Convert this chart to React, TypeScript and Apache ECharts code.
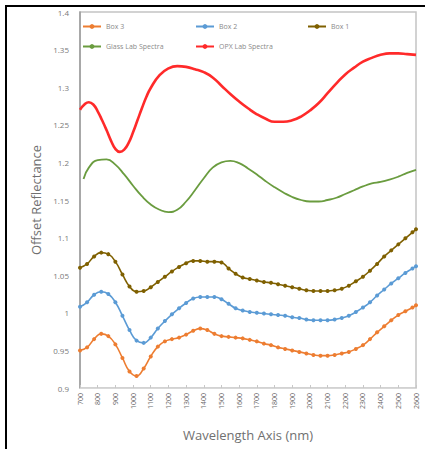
import React, { useEffect, useRef } from "react";
import * as echarts from "echarts";

const boxNm = [700, 740, 780, 820, 860, 900, 940, 980, 1020, 1060, 1100, 1140, 1180, 1220, 1260, 1300, 1340, 1380, 1420, 1460, 1500, 1540, 1580, 1620, 1660, 1700, 1740, 1780, 1820, 1860, 1900, 1940, 1980, 2020, 2060, 2100, 2140, 2180, 2220, 2260, 2300, 2340, 2380, 2420, 2460, 2500, 2540, 2580, 2600];

const box3 = [0.950, 0.954, 0.965, 0.972, 0.969, 0.958, 0.940, 0.922, 0.916, 0.926, 0.942, 0.955, 0.962, 0.965, 0.967, 0.971, 0.976, 0.979, 0.977, 0.972, 0.969, 0.968, 0.967, 0.966, 0.964, 0.962, 0.959, 0.957, 0.954, 0.952, 0.950, 0.948, 0.946, 0.944, 0.943, 0.943, 0.944, 0.946, 0.948, 0.952, 0.957, 0.965, 0.974, 0.982, 0.990, 0.997, 1.002, 1.007, 1.010];

const box2 = [1.008, 1.014, 1.024, 1.028, 1.025, 1.014, 0.996, 0.977, 0.963, 0.960, 0.967, 0.979, 0.989, 0.998, 1.006, 1.013, 1.019, 1.021, 1.021, 1.021, 1.018, 1.012, 1.006, 1.003, 1.001, 1.000, 0.999, 0.998, 0.997, 0.996, 0.994, 0.993, 0.991, 0.990, 0.990, 0.990, 0.991, 0.993, 0.996, 1.001, 1.007, 1.014, 1.023, 1.031, 1.039, 1.046, 1.053, 1.059, 1.062];

const box1 = [1.060, 1.065, 1.075, 1.080, 1.078, 1.068, 1.051, 1.035, 1.028, 1.029, 1.034, 1.041, 1.048, 1.055, 1.061, 1.066, 1.069, 1.069, 1.068, 1.068, 1.067, 1.059, 1.052, 1.047, 1.045, 1.043, 1.041, 1.040, 1.038, 1.036, 1.034, 1.032, 1.030, 1.029, 1.029, 1.029, 1.030, 1.032, 1.036, 1.042, 1.048, 1.056, 1.065, 1.075, 1.083, 1.091, 1.099, 1.107, 1.111];

const glassNm = [720, 750, 800, 850, 900, 950, 1000, 1050, 1100, 1150, 1200, 1250, 1300, 1350, 1400, 1450, 1500, 1550, 1600, 1650, 1700, 1750, 1800, 1850, 1900, 1950, 2000, 2050, 2100, 2150, 2200, 2250, 2300, 2350, 2400, 2450, 2500, 2550, 2600];
const glass = [1.178, 1.193, 1.203, 1.204, 1.197, 1.184, 1.169, 1.155, 1.144, 1.137, 1.134, 1.137, 1.148, 1.163, 1.179, 1.193, 1.200, 1.202, 1.199, 1.192, 1.184, 1.175, 1.167, 1.160, 1.154, 1.150, 1.148, 1.148, 1.150, 1.153, 1.158, 1.163, 1.168, 1.172, 1.174, 1.177, 1.181, 1.186, 1.190];

const opxNm = [700, 725, 750, 775, 800, 825, 850, 875, 900, 925, 950, 975, 1000, 1025, 1050, 1075, 1100, 1150, 1200, 1250, 1300, 1350, 1400, 1450, 1500, 1550, 1600, 1650, 1700, 1750, 1800, 1850, 1900, 1950, 2000, 2050, 2100, 2150, 2200, 2250, 2300, 2350, 2400, 2450, 2500, 2550, 2600];
const opx = [1.270, 1.277, 1.280, 1.277, 1.268, 1.256, 1.243, 1.229, 1.218, 1.214, 1.217, 1.226, 1.240, 1.256, 1.272, 1.287, 1.299, 1.316, 1.325, 1.328, 1.327, 1.324, 1.320, 1.313, 1.302, 1.291, 1.281, 1.272, 1.264, 1.258, 1.254, 1.254, 1.256, 1.261, 1.269, 1.279, 1.292, 1.305, 1.317, 1.326, 1.334, 1.339, 1.343, 1.345, 1.345, 1.344, 1.343];

const seriesNames = ["Box 3", "Box 2", "Box 1", "Glass Lab Spectra", "OPX Lab Spectra"];
const colors = ["#ED7D31", "#5B9BD5", "#7F6000", "#6A9C3F", "#FF2A2A"];

const zip = (xs: number[], ys: number[]) => xs.map((x, i) => [x, ys[i]]);

export default function App() {
  const ref = useRef<HTMLDivElement>(null);
  useEffect(() => {
    if (!ref.current) return;
    const chart = echarts.init(ref.current, null, { renderer: "svg" });
    const font = "Open Sans, Liberation Sans, sans-serif";
    const legendText = { fontSize: 7, color: "#8a8a8a", fontFamily: font };
    const mkLegend = (name: string, left: number, top: number) => ({
      data: [name],
      left,
      top,
      itemWidth: 18,
      itemHeight: 6,
      itemGap: 4,
      textStyle: legendText,
      padding: 0,
    });
    const boxSeries = (name: string, ys: number[], color: string) => ({
      name,
      type: "line",
      data: zip(boxNm, ys),
      smooth: 0.5,
      symbol: "circle",
      symbolSize: 4,
      showAllSymbol: true,
      lineStyle: { color, width: 1.6 },
      itemStyle: { color },
    });
    chart.setOption({
      animation: false,
      backgroundColor: "#ffffff",
      grid: {
        left: 80,
        right: 9,
        top: 12,
        bottom: 61,
        show: true,
        borderColor: "#c4c4c4",
        borderWidth: 1.5,
      },
      legend: [
        mkLegend(seriesNames[0], 82, 23),
        mkLegend(seriesNames[1], 195, 23),
        mkLegend(seriesNames[2], 307, 23),
        mkLegend(seriesNames[3], 82, 43),
        mkLegend(seriesNames[4], 195, 43),
      ],
      xAxis: {
        type: "value",
        min: 700,
        max: 2600,
        interval: 100,
        name: "Wavelength Axis (nm)",
        nameLocation: "middle",
        nameGap: 40,
        nameTextStyle: { fontSize: 13, color: "#707070", fontFamily: font },
        axisLine: { show: true, lineStyle: { color: "#d8d8d8", width: 1 } },
        axisTick: { show: true, inside: true, length: 3, lineStyle: { color: "#c8c8c8" } },
        axisLabel: {
          rotate: 90,
          fontSize: 7,
          color: "#6a6a6a",
          margin: 5,
          fontFamily: font,
          formatter: (v: number) => String(v),
        },
        splitLine: { show: false },
      },
      yAxis: {
        type: "value",
        min: 0.9,
        max: 1.4,
        interval: 0.05,
        name: "Offset Reflectance",
        nameLocation: "middle",
        nameGap: 37,
        nameTextStyle: { fontSize: 13, color: "#707070", fontFamily: font },
        axisLine: { show: true, lineStyle: { color: "#9a9a9a", width: 1.5 } },
        axisTick: { show: false },
        axisLabel: { fontSize: 8, color: "#7a7a7a", margin: 11, fontFamily: font },
        splitLine: { show: false },
      },
      series: [
        boxSeries(seriesNames[0], box3, colors[0]),
        boxSeries(seriesNames[1], box2, colors[1]),
        boxSeries(seriesNames[2], box1, colors[2]),
        {
          name: seriesNames[3],
          type: "line",
          data: zip(glassNm, glass),
          smooth: 0.5,
          showSymbol: false,
          symbol: "none",
          lineStyle: { color: colors[3], width: 1.8 },
          itemStyle: { color: colors[3] },
        },
        {
          name: seriesNames[4],
          type: "line",
          data: zip(opxNm, opx),
          smooth: 0.5,
          showSymbol: false,
          symbol: "none",
          lineStyle: { color: colors[4], width: 2.6 },
          itemStyle: { color: colors[4] },
        },
      ],
      graphic: [
        { type: "line", shape: { x1: 5, y1: 6, x2: 425, y2: 6 }, style: { stroke: "#000", lineWidth: 2 } },
        { type: "line", shape: { x1: 6, y1: 5, x2: 6, y2: 449 }, style: { stroke: "#000", lineWidth: 2 } },
      ],
    });
    return () => chart.dispose();
  }, []);
  return <div ref={ref} style={{ width: 425, height: 449, position: "fixed", left: 0, top: 0 }} />;
}
